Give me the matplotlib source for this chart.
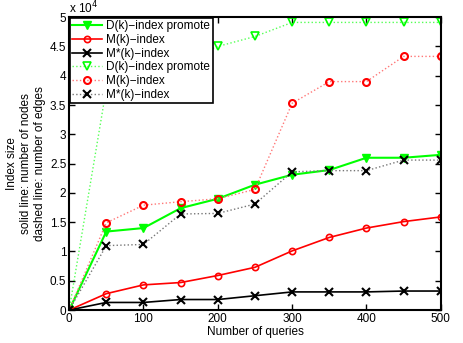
import matplotlib
matplotlib.use("Agg")
import matplotlib.pyplot as plt
from matplotlib.ticker import FuncFormatter

plt.rcParams['font.family'] = ['Liberation Sans', 'DejaVu Sans']

queries = [0, 50, 100, 150, 200, 250, 300, 350, 400, 450, 500]
# values in units of 1e4
d_nodes = [0, 1.34, 1.40, 1.74, 1.90, 2.14, 2.31, 2.39, 2.60, 2.60, 2.65]
m_nodes = [0, 0.28, 0.43, 0.47, 0.59, 0.73, 1.01, 1.24, 1.40, 1.51, 1.59]
ms_nodes = [0, 0.13, 0.13, 0.18, 0.18, 0.245, 0.31, 0.31, 0.31, 0.325, 0.325]
d_edges = [0, 3.78, 3.79, 4.26, 4.50, 4.67, 4.91, 4.91, 4.91, 4.91, 4.91]
m_edges = [0, 1.49, 1.79, 1.85, 1.90, 2.06, 3.53, 3.90, 3.90, 4.33, 4.33]
ms_edges = [0, 1.10, 1.12, 1.64, 1.65, 1.81, 2.36, 2.38, 2.38, 2.56, 2.56]

x_ticks = [0, 100, 200, 300, 400, 500]
y_ticks = [0, 0.5, 1, 1.5, 2, 2.5, 3, 3.5, 4, 4.5, 5]

fig = plt.figure(figsize=(4.64, 3.43), dpi=100)
ax = fig.add_axes([0.149, 0.096, 0.801, 0.854])

green = '#00ff00'
red = '#ff0000'
black = '#000000'

ax.plot(queries, d_nodes, '-', color=green, lw=1.5, marker='v', ms=5.5, mfc=green, mec=green, label='D(k)\u2212index promote')
ax.plot(queries, m_nodes, '-', color=red, lw=1.2, marker='o', ms=4.5, mfc='none', mec=red, mew=1.2, label='M(k)\u2212index')
ax.plot(queries, ms_nodes, '-', color=black, lw=1.2, marker='x', ms=5.5, mec=black, mew=1.5, label='M*(k)\u2212index')
ax.plot(queries, d_edges, ':', color='#55ff55', lw=1.0, marker='v', ms=5.5, mfc='none', mec=green, mew=1.2, label='D(k)\u2212index promote')
ax.plot(queries, m_edges, ':', color='#ff7777', lw=1.0, marker='o', ms=5, mfc='none', mec=red, mew=1.5, label='M(k)\u2212index')
ax.plot(queries, ms_edges, ':', color='#777777', lw=1.0, marker='x', ms=5.5, mec=black, mew=1.5, label='M*(k)\u2212index')

ax.set_xlim(0, 500)
ax.set_ylim(0, 5)
ax.set_xticks(x_ticks)
ax.set_yticks(y_ticks)
ax.yaxis.set_major_formatter(FuncFormatter(lambda v, p: ('%g' % v)))
ax.tick_params(direction='in', top=True, right=True, labelsize=8.5, length=4, width=1, pad=2)
for s in ax.spines.values():
    s.set_linewidth(1.5)

ax.set_xlabel('Number of queries', fontsize=8.5, labelpad=1)
ax.set_ylabel('Index size\nsolid line: number of nodes\ndashed line: number of edges', fontsize=8.5, labelpad=3)
ax.text(0.0, 1.012, 'x 10$^4$', transform=ax.transAxes, fontsize=8.5, ha='left', va='baseline')

leg = ax.legend(loc='upper left', fontsize=8.5, frameon=True, fancybox=False, framealpha=1,
                edgecolor='black', borderpad=0.2, labelspacing=0.15, handlelength=2.5, numpoints=1,
                handletextpad=0.4, borderaxespad=0.05)
leg.get_frame().set_linewidth(1.2)

fig.savefig('out.png', dpi=100)
